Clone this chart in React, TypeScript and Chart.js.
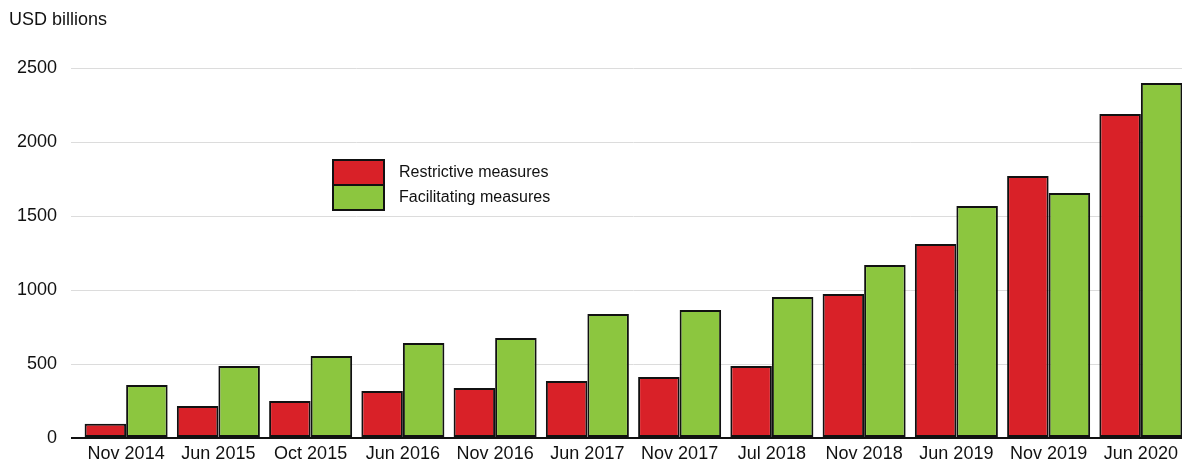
import React, { useEffect, useRef } from "react";
import { Chart, registerables } from "chart.js";

Chart.register(...registerables);

const categories = [
  "Nov 2014", "Jun 2015", "Oct 2015", "Jun 2016", "Nov 2016", "Jun 2017",
  "Nov 2017", "Jul 2018", "Nov 2018", "Jun 2019", "Nov 2019", "Jun 2020",
];
const restrictive = [97, 216, 250, 318, 338, 385, 412, 486, 973, 1311, 1770, 2189];
const facilitating = [358, 486, 554, 642, 676, 838, 865, 953, 1169, 1568, 1655, 2399];
const seriesNames = ["Restrictive measures", "Facilitating measures"];
const yTicks = [0, 500, 1000, 1500, 2000, 2500];
const unitLabel = "USD billions";

const RED = "#D92128";
const GREEN = "#8CC63F";
const FONT = "'Liberation Sans', Arial, sans-serif";

const overlayPlugin = {
  id: "overlay",
  afterDraw(chart: any) {
    const ctx = chart.ctx;
    ctx.save();
    ctx.fillStyle = "#111";
    ctx.font = `18px ${FONT}`;
    ctx.textBaseline = "middle";
    ctx.textAlign = "left";
    ctx.fillText(unitLabel, 9, 20);

    const boxX = 333;
    const boxW = 51;
    const tops = [160, 185];
    const boxH = 25;
    chart.data.datasets.forEach((ds: any, i: number) => {
      const y = tops[i];
      ctx.fillStyle = ds.backgroundColor;
      ctx.fillRect(boxX, y, boxW, boxH);
      ctx.strokeStyle = "#111";
      ctx.lineWidth = 2;
      ctx.strokeRect(boxX, y, boxW, boxH);
      ctx.fillStyle = "#111";
      ctx.font = `16px ${FONT}`;
      ctx.fillText(ds.label, 399, y + boxH / 2);
    });
    ctx.restore();
  },
};

export default function App() {
  const ref = useRef<HTMLCanvasElement>(null);
  useEffect(() => {
    if (!ref.current) return;
    const chart = new Chart(ref.current, {
      type: "bar",
      data: {
        labels: categories,
        datasets: [
          {
            label: seriesNames[0],
            data: restrictive,
            backgroundColor: RED,
            borderColor: "#111",
            borderWidth: 2,
            borderSkipped: false,
            categoryPercentage: 0.9,
            barPercentage: 1.0,
          },
          {
            label: seriesNames[1],
            data: facilitating,
            backgroundColor: GREEN,
            borderColor: "#111",
            borderWidth: 2,
            borderSkipped: false,
            categoryPercentage: 0.9,
            barPercentage: 1.0,
          },
        ],
      },
      options: {
        animation: false,
        responsive: false,
        maintainAspectRatio: false,
        layout: { padding: { top: 68, right: 3, left: 0, bottom: 0 } },
        plugins: {
          legend: { display: false },
          tooltip: { enabled: false },
          title: { display: false },
        },
        scales: {
          x: {
            grid: { display: false, drawTicks: false },
            border: { display: false },
            ticks: {
              color: "#111",
              font: { family: FONT, size: 18 },
              padding: 5,
              maxRotation: 0,
              autoSkip: false,
            },
            afterFit(scale: any) {
              scale.height = 22;
            },
          },
          y: {
            min: 0,
            max: 2500,
            afterBuildTicks(scale: any) {
              scale.ticks = yTicks.map((v) => ({ value: v }));
            },
            grid: {
              color: (c: any) => (c.tick && c.tick.value === 0 ? "#111" : "#DCDCDC"),
              lineWidth: (c: any) => (c.tick && c.tick.value === 0 ? 2 : 1),
              tickLength: 9,
              drawTicks: true,
            },
            border: { display: false },
            ticks: {
              color: "#111",
              font: { family: FONT, size: 18 },
              padding: 14,
              callback: (v: any) => String(v),
            },
            afterFit(scale: any) {
              scale.width = 80;
              scale.paddingTop = 0;
              scale.paddingBottom = 0;
            },
          },
        },
      },
      plugins: [overlayPlugin],
    });
    return () => chart.destroy();
  }, []);

  return (
    <div style={{ position: "absolute", left: 0, top: 0, width: 1182, height: 460, overflow: "hidden", background: "#fff" }}>
      <canvas ref={ref} width={1190} height={460} style={{ display: "block", width: 1190, height: 460 }} />
    </div>
  );
}
